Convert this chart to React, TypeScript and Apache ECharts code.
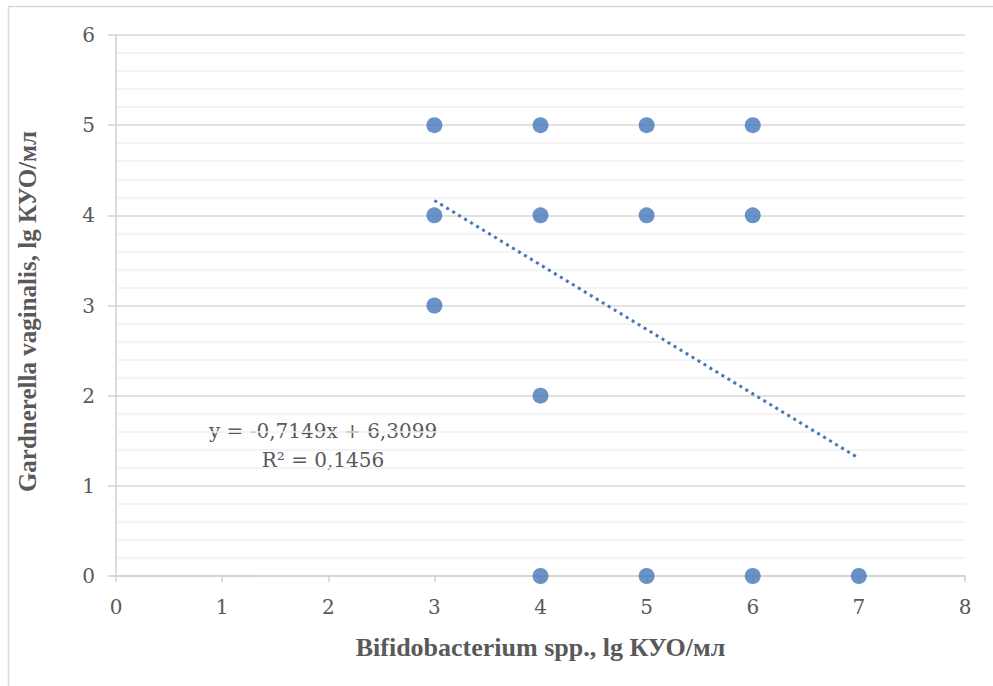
import React, { useEffect, useRef } from "react";
import * as echarts from "echarts";

// Bifidobacterium spp. (x) vs Gardnerella vaginalis (y), lg КУО/мл
const bifidoValues = [3, 4, 5, 6, 3, 4, 5, 6, 3, 4, 4, 5, 6, 7];
const gardnerellaValues = [5, 5, 5, 5, 4, 4, 4, 4, 3, 2, 0, 0, 0, 0];

// Linear trend: y = slope * x + intercept, drawn over the x range of the data
const trendSlope = -0.7149;
const trendIntercept = 6.3099;
const trendRSquared = 0.1456;
const trendRange = [3, 7];

const xAxisTitle = "Bifidobacterium spp., lg КУО/мл";
const yAxisTitle = "Gardnerella vaginalis, lg КУО/мл";

const fmt = (v: number) => v.toFixed(4).replace(".", ",");

export default function App() {
  const ref = useRef<HTMLDivElement>(null);

  useEffect(() => {
    if (!ref.current) return;
    const chart = echarts.init(ref.current, undefined, { renderer: "svg" });

    const points = bifidoValues.map((x, i) => [x, gardnerellaValues[i]]);
    const trend = trendRange.map((x) => [x, trendSlope * x + trendIntercept]);
    const sign = trendIntercept >= 0 ? "+" : "-";
    const eq = `y = ${fmt(trendSlope)}x ${sign} ${fmt(Math.abs(trendIntercept))}`;
    const r2 = `R² = ${fmt(trendRSquared)}`;

    const labelFont = "'DejaVu Serif', serif";
    const titleFont = "'Liberation Serif', 'Times New Roman', serif";

    chart.setOption({
      animation: false,
      backgroundColor: "#ffffff",
      grid: { left: 116, right: 28, top: 35, bottom: 110 },
      xAxis: {
        type: "value",
        min: 0,
        max: 8,
        interval: 1,
        name: xAxisTitle,
        nameLocation: "middle",
        nameGap: 58,
        nameTextStyle: {
          fontFamily: titleFont,
          fontWeight: "bold",
          fontSize: 26,
          color: "#595959",
        },
        axisLine: { show: true, lineStyle: { color: "#d0d0d0", width: 1.5 } },
        axisTick: { show: true, length: 6, lineStyle: { color: "#d0d0d0", width: 1.5 } },
        axisLabel: { margin: 21, fontFamily: labelFont, fontSize: 20, color: "#595959" },
        splitLine: { show: false },
      },
      yAxis: {
        type: "value",
        min: 0,
        max: 6,
        interval: 1,
        name: yAxisTitle,
        nameLocation: "middle",
        nameGap: 76,
        nameTextStyle: {
          fontFamily: titleFont,
          fontWeight: "bold",
          fontSize: 25,
          color: "#595959",
          padding: [0, 12, 0, 0],
        },
        axisLine: { show: true, lineStyle: { color: "#d0d0d0", width: 1.5 } },
        axisTick: { show: true, inside: false, length: 8, lineStyle: { color: "#d0d0d0", width: 1.5 } },
        axisLabel: { margin: 21, fontFamily: labelFont, fontSize: 20, color: "#595959" },
        splitLine: { show: true, lineStyle: { color: "#d9d9d9", width: 1.5 } },
        minorTick: { show: false, splitNumber: 5 },
        minorSplitLine: { show: true, lineStyle: { color: "#f0f0f0", width: 1.5 } },
      },
      series: [
        {
          type: "line",
          data: trend,
          showSymbol: false,
          symbol: "none",
          lineStyle: { color: "#4677b8", width: 3, type: [3, 4] },
          silent: true,
          z: 2,
        },
        {
          type: "scatter",
          data: points,
          symbol: "circle",
          symbolSize: 16,
          itemStyle: { color: "#4677b8" },
          z: 3,
        },
      ],
      graphic: [
        {
          type: "rect",
          shape: { x: 8.5, y: 6.5, width: 1200, height: 1200 },
          style: { fill: "none", stroke: "#d9d9d9", lineWidth: 1.5 },
          silent: true,
          z: -1,
        },
        {
          type: "text",
          x: 323,
          y: 431,
          style: {
            text: eq,
            align: "center",
            verticalAlign: "middle",
            fontFamily: labelFont,
            fontSize: 20,
            fill: "#595959",
          },
        },
        {
          type: "text",
          x: 323,
          y: 460,
          style: {
            text: r2,
            align: "center",
            verticalAlign: "middle",
            fontFamily: labelFont,
            fontSize: 20,
            fill: "#595959",
          },
        },
      ],
    });

    return () => chart.dispose();
  }, []);

  return (
    <div
      ref={ref}
      style={{ position: "fixed", left: 0, top: 0, width: 993, height: 686, background: "#fff" }}
    />
  );
}
